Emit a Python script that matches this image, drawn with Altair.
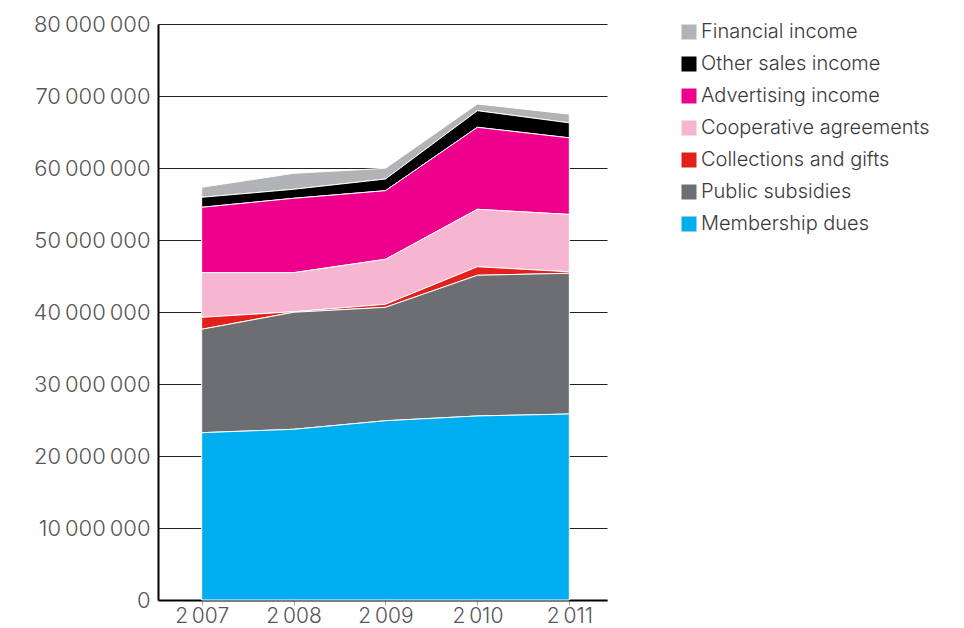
import altair as alt
import pandas as pd

years = [2007, 2008, 2009, 2010, 2011]
year_labels = ["2\u2009007", "2\u2009008", "2\u2009009", "2\u2009010", "2\u2009011"]

series_names = [
    "Financial income",
    "Other sales income",
    "Advertising income",
    "Cooperative agreements",
    "Collections and gifts",
    "Public subsidies",
    "Membership dues",
]
series_colors = ["#b1b3b6", "#000000", "#ec008c", "#f6b6d2", "#e3211c", "#6d6e71", "#00aeef"]

financial = [1390000, 2220000, 1490000, 930000, 1210000]
other_sales = [1390000, 1250000, 1620000, 2310000, 2080000]
advertising = [9080000, 10330000, 9530000, 11390000, 10640000]
cooperative = [6200000, 5420000, 6250000, 7970000, 7970000]
collections = [1660000, 80000, 420000, 1190000, 200000]
public_subsidies = [14360000, 16250000, 15750000, 19540000, 19550000]
membership = [23240000, 23710000, 24900000, 25560000, 25830000]

series_values = [financial, other_sales, advertising, cooperative, collections,
                 public_subsidies, membership]

rows = []
for name, vals in zip(series_names, series_values):
    rank = len(series_names) - series_names.index(name)
    for y, v in zip(years, vals):
        rows.append({"year": y, "series": name, "value": v, "rank": rank})
df = pd.DataFrame(rows)

label_map = "{" + ",".join(f"'{y}':'{l}'" for y, l in zip(years, year_labels)) + "}"
font = "Inter"

chart = alt.Chart(df).mark_area(stroke="white", strokeWidth=1, interpolate="linear").encode(
    x=alt.X("year:Q",
            scale=alt.Scale(domain=[2006.525, 2011.41], nice=False, zero=False),
            axis=alt.Axis(values=years, title=None, grid=False,
                          labelExpr=label_map + "[toString(datum.value)]",
                          domainColor="#000000", domainWidth=2,
                          tickColor="#aaaaaa", tickSize=5, tickWidth=1,
                          labelFont=font, labelFontSize=21, labelFontWeight=300,
                          labelColor="#555555", labelPadding=0, labelFlush=False)),
    y=alt.Y("value:Q", stack="zero",
            scale=alt.Scale(domain=[0, 80000000], nice=False),
            axis=alt.Axis(values=[i * 10000000 for i in range(9)], title=None,
                          labelExpr="replace(replace(format(datum.value, ','), ',', '\u2009'), ',', '\u2009')",
                          domainColor="#000000", domainWidth=2, ticks=False,
                          grid=True, gridColor="#222222", gridWidth=1,
                          labelFont=font, labelFontSize=22, labelFontWeight=300,
                          labelColor="#555555", labelPadding=8)),
    color=alt.Color("series:N",
                    scale=alt.Scale(domain=series_names, range=series_colors),
                    legend=alt.Legend(title=None, orient="none", legendX=521, legendY=-2,
                                      symbolType="square", symbolSize=225,
                                      symbolStrokeWidth=0, labelFont=font,
                                      labelFontSize=20, labelFontWeight=300,
                                      labelColor="#3a3a3a", labelOffset=2,
                                      rowPadding=12, padding=0, labelLimit=400)),
    order=alt.Order("rank:Q", sort="ascending"),
).properties(
    width=449, height=576,
    autosize=alt.AutoSizeParams(type="none"),
    padding={"left": 150, "top": 16, "right": 330, "bottom": 40},
).configure_view(stroke=None)

chart.save("out.html", embed_options={"renderer": "svg", "actions": False})
